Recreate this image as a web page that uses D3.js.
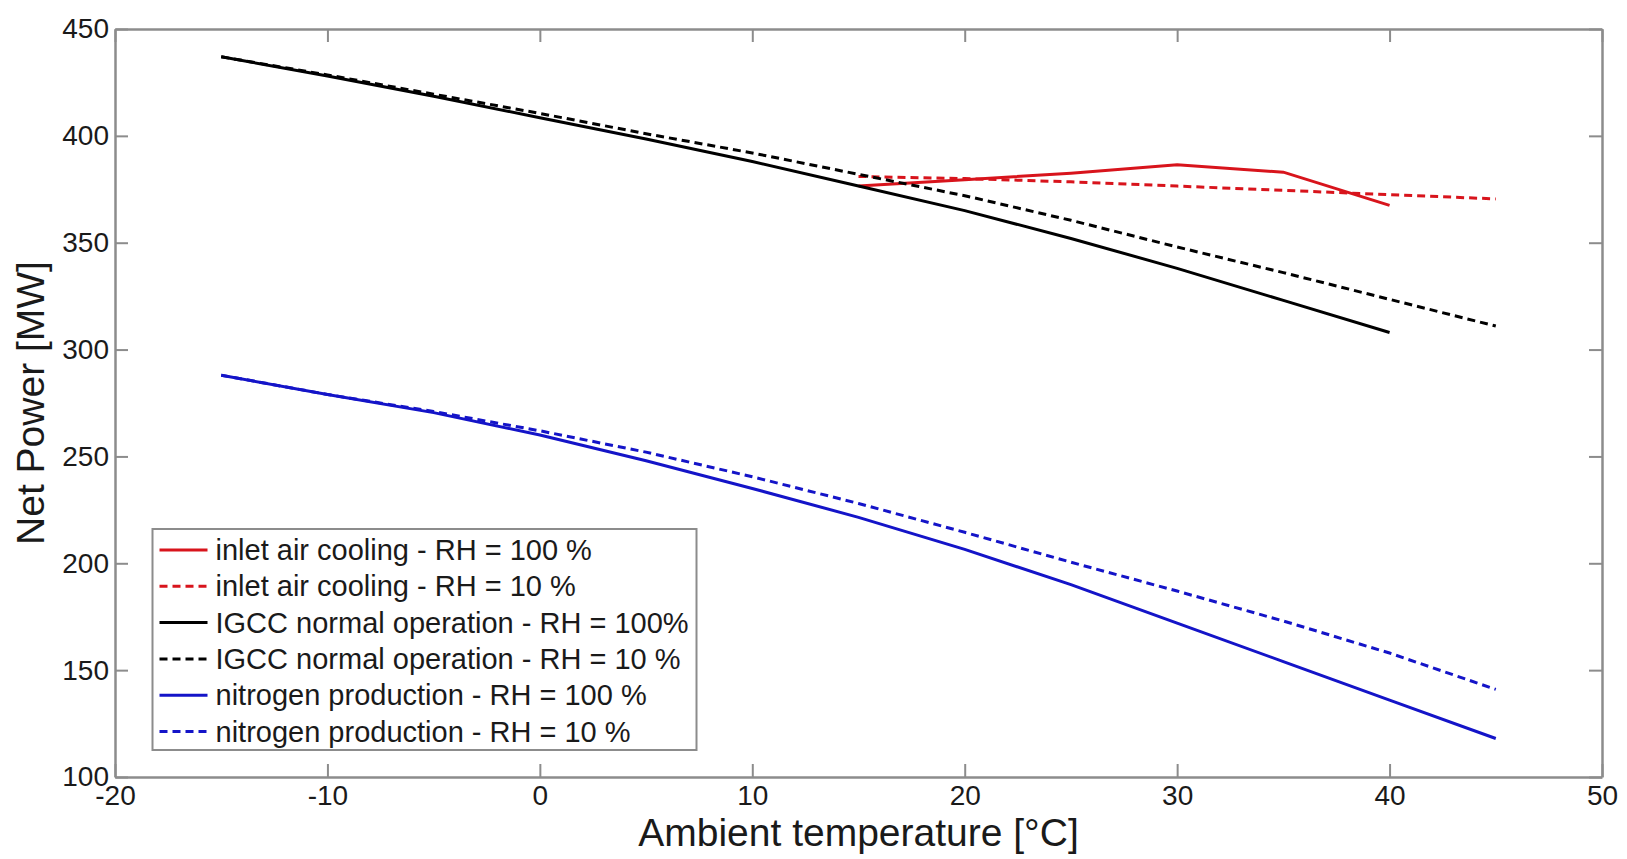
<!DOCTYPE html>
<html>
<head>
<meta charset="utf-8">
<script src="https://cdn.jsdelivr.net/npm/d3@7"></script>
<style>
  body { margin: 0; background: #fff; }
  text { font-family: "Liberation Sans", Arial, sans-serif; fill: #1a1a1a; }
</style>
</head>
<body>
<div class="chart"></div>
<script>
var margin = {top: 29, right: 25, bottom: 82, left: 115};
var width = 1627 - margin.left - margin.right;
var height = 859 - margin.top - margin.bottom;

// temperatures [°C]
let tempAll = [-15, -10, -5, 0, 5, 10, 15, 20, 25, 30, 35, 40, 45];
let tempTo40 = [-15, -10, -5, 0, 5, 10, 15, 20, 25, 30, 35, 40];
let tempCool100 = [15, 20, 25, 30, 35, 40];
let tempCool10 = [15, 20, 25, 30, 35, 40, 45];

// net power [MW]
let cooling100 = [376.5, 379.5, 382.5, 386.5, 383, 367.5];
let cooling10 = [381, 380, 378.5, 376.5, 374.5, 372.5, 370.5];
let igcc100 = [437, 428, 418.5, 408.5, 398.5, 388, 376.5, 365, 352, 338, 323, 308];
let igcc10 = [437, 428.5, 419.5, 410.5, 401, 392, 382, 372, 360.5, 348, 336, 323.5, 311];
let nitrogen100 = [288, 279, 270.5, 260, 248, 235, 221.5, 206.5, 190, 172, 154, 136, 118];
let nitrogen10 = [288, 279, 271, 262, 252, 240.5, 228, 214.5, 200.5, 187, 173, 158, 141];

let seriesNames = [
  'inlet air cooling - RH = 100 %',
  'inlet air cooling - RH = 10 %',
  'IGCC normal operation - RH = 100%',
  'IGCC normal operation - RH = 10 %',
  'nitrogen production - RH = 100 %',
  'nitrogen production - RH = 10 %'
];

let xTicks = [-20, -10, 0, 10, 20, 30, 40, 50];
let yTicks = [100, 150, 200, 250, 300, 350, 400, 450];

let red = '#d8141c';
let blue = '#1414c8';
let black = '#000';

let series = [
  {name: seriesNames[0], t: tempCool100, v: cooling100, color: red, dash: null},
  {name: seriesNames[1], t: tempCool10, v: cooling10, color: red, dash: '8,5'},
  {name: seriesNames[2], t: tempTo40, v: igcc100, color: black, dash: null},
  {name: seriesNames[3], t: tempAll, v: igcc10, color: black, dash: '8,5'},
  {name: seriesNames[4], t: tempAll, v: nitrogen100, color: blue, dash: null},
  {name: seriesNames[5], t: tempAll, v: nitrogen10, color: blue, dash: '8,5'}
];

let svg = d3.select('.chart')
  .append('svg')
  .attr('width', width + margin.left + margin.right)
  .attr('height', height + margin.top + margin.bottom)
  .append('g')
  .attr('transform', `translate(${margin.left}, ${margin.top})`)
;

//scales

let xScale = d3.scaleLinear()
  .domain([-20, 50])
  .range([0, width]);

let yScale = d3.scaleLinear()
  .domain([100, 450])
  .range([height, 0]);

let axisColor = '#8c8c8c';
let tick = 13;

function styleAxis(g) {
  g.select('.domain').attr('stroke', axisColor).attr('stroke-width', 2.5);
  g.selectAll('.tick line').attr('stroke', axisColor).attr('stroke-width', 2);
  g.selectAll('.tick text').style('font-size', '28px').attr('fill', '#1a1a1a');
}

// plain hyphen for negatives, as in the original figure
let plain = d => String(d);

svg.append('g')
  .attr('transform', `translate(0, ${height})`)
  .call(d3.axisBottom(xScale).tickValues(xTicks).tickFormat(plain).tickSizeInner(-tick).tickSizeOuter(0).tickPadding(8))
  .call(styleAxis);

svg.append('g')
  .call(d3.axisTop(xScale).tickValues(xTicks).tickSizeInner(-tick).tickSizeOuter(0).tickFormat(''))
  .call(styleAxis);

svg.append('g')
  .call(d3.axisLeft(yScale).tickValues(yTicks).tickFormat(plain).tickSizeInner(-tick).tickSizeOuter(0).tickPadding(6))
  .call(styleAxis);

svg.append('g')
  .attr('transform', `translate(${width}, 0)`)
  .call(d3.axisRight(yScale).tickValues(yTicks).tickSizeInner(-tick).tickSizeOuter(0).tickFormat(''))
  .call(styleAxis);

//scales END

let line = d3.line()
  .x(d => xScale(d[0]))
  .y(d => yScale(d[1]));

svg.selectAll('.series')
  .data(series)
  .enter()
  .append('path')
  .attr('class', 'series')
  .attr('d', s => line(s.t.map((t, i) => [t, s.v[i]])))
  .style('fill', 'none')
  .style('stroke', s => s.color)
  .style('stroke-width', 3)
  .style('stroke-dasharray', s => s.dash);

// legend
let legend = svg.append('g')
  .attr('transform', `translate(${152.5 - margin.left}, ${529 - margin.top})`);

legend.append('rect')
  .attr('width', 544)
  .attr('height', 221)
  .style('fill', '#fff')
  .style('stroke', axisColor)
  .style('stroke-width', 2);

let rows = legend.selectAll('.row')
  .data(series)
  .enter()
  .append('g')
  .attr('class', 'row')
  .attr('transform', (d, i) => `translate(0, ${21 + i * 36.3})`);

rows.append('line')
  .attr('x1', 7)
  .attr('x2', 55)
  .style('stroke', d => d.color)
  .style('stroke-width', 3)
  .style('stroke-dasharray', d => d.dash);

rows.append('text')
  .attr('x', 63)
  .attr('dy', '0.35em')
  .style('font-size', '29px')
  .text(d => d.name);

// axis labels
svg.append('text')
  .attr('x', width / 2)
  .attr('y', 846 - margin.top)
  .style('text-anchor', 'middle')
  .style('font-size', '39px')
  .text('Ambient temperature [°C]');

svg.append('text')
  .attr('transform', `translate(${44 - margin.left}, ${height / 2}) rotate(-90)`)
  .style('text-anchor', 'middle')
  .style('font-size', '39px')
  .text('Net Power [MW]');
</script>
</body>
</html>
